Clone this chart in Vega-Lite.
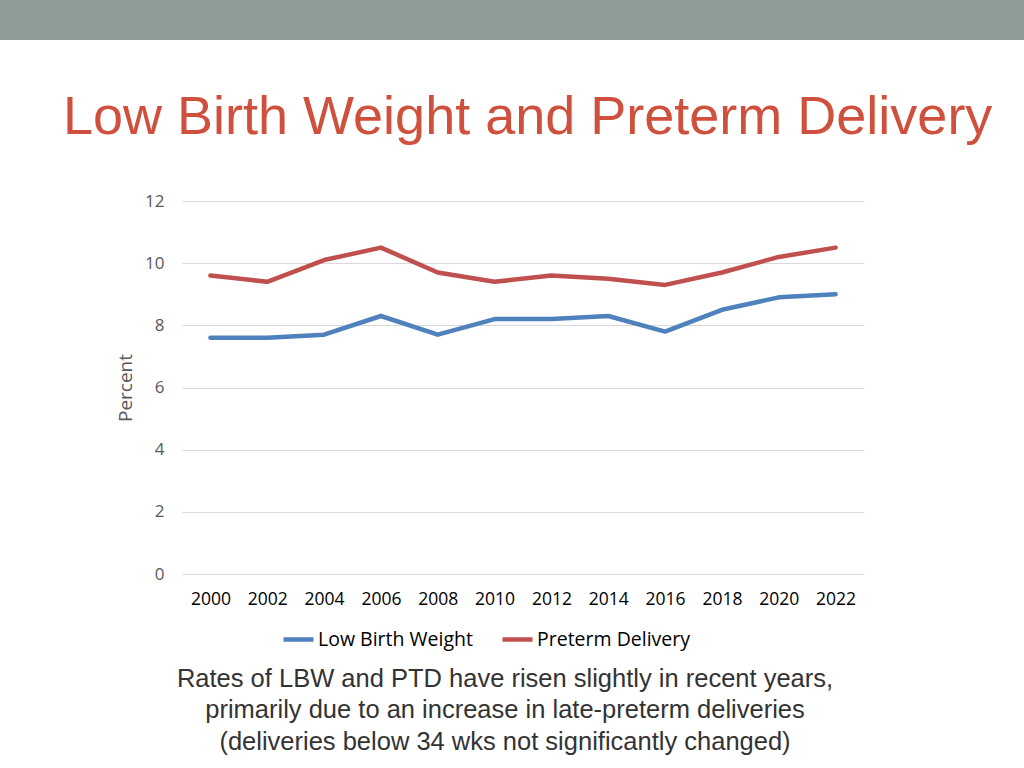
{
  "$schema": "https://vega.github.io/schema/vega-lite/v6.json",
  "padding": 0,
  "background": "white",
  "spacing": 51,
  "config": {"view": {"stroke": null}},
  "vconcat": [
    {
      "width": 1024,
      "height": 40,
      "view": {"fill": "#8F9D96", "stroke": null},
      "data": {"values": [{}]},
      "mark": {"type": "text", "text": ""}
    },
    {
      "title": {
        "text": "Low Birth Weight and Preterm Delivery",
        "anchor": "start",
        "dx": 63,
        "offset": 47,
        "font": "Liberation Sans",
        "fontSize": 54,
        "fontWeight": "normal",
        "color": "#CF503C"
      },
      "spacing": 0,
      "hconcat": [
        {
          "width": 116,
          "height": 1,
          "data": {"values": [{}]},
          "mark": {"type": "text", "text": ""}
        },
        {
          "width": 682,
          "height": 373,
          "data": {
            "values": [
              {"year": "2000", "series": "Low Birth Weight", "value": 7.6},
              {"year": "2002", "series": "Low Birth Weight", "value": 7.6},
              {"year": "2004", "series": "Low Birth Weight", "value": 7.7},
              {"year": "2006", "series": "Low Birth Weight", "value": 8.3},
              {"year": "2008", "series": "Low Birth Weight", "value": 7.7},
              {"year": "2010", "series": "Low Birth Weight", "value": 8.2},
              {"year": "2012", "series": "Low Birth Weight", "value": 8.2},
              {"year": "2014", "series": "Low Birth Weight", "value": 8.3},
              {"year": "2016", "series": "Low Birth Weight", "value": 7.8},
              {"year": "2018", "series": "Low Birth Weight", "value": 8.5},
              {"year": "2020", "series": "Low Birth Weight", "value": 8.9},
              {"year": "2022", "series": "Low Birth Weight", "value": 9.0},
              {"year": "2000", "series": "Preterm Delivery", "value": 9.6},
              {"year": "2002", "series": "Preterm Delivery", "value": 9.4},
              {"year": "2004", "series": "Preterm Delivery", "value": 10.1},
              {"year": "2006", "series": "Preterm Delivery", "value": 10.5},
              {"year": "2008", "series": "Preterm Delivery", "value": 9.7},
              {"year": "2010", "series": "Preterm Delivery", "value": 9.4},
              {"year": "2012", "series": "Preterm Delivery", "value": 9.6},
              {"year": "2014", "series": "Preterm Delivery", "value": 9.5},
              {"year": "2016", "series": "Preterm Delivery", "value": 9.3},
              {"year": "2018", "series": "Preterm Delivery", "value": 9.7},
              {"year": "2020", "series": "Preterm Delivery", "value": 10.2},
              {"year": "2022", "series": "Preterm Delivery", "value": 10.5}
            ]
          },
          "title": {
            "text": [
              "Rates of LBW and PTD have risen slightly in recent years,",
              "primarily due to an increase in late-preterm deliveries",
              "(deliveries below 34 wks not significantly changed)"
            ],
            "orient": "bottom",
            "anchor": "middle",
            "frame": "group",
            "dx": -18,
            "offset": 59,
            "font": "Liberation Sans",
            "fontSize": 25.5,
            "lineHeight": 31.5,
            "fontWeight": "normal",
            "color": "#333333"
          },
          "mark": {"type": "line", "strokeWidth": 4.5, "strokeCap": "round", "strokeJoin": "round"},
          "encoding": {
            "x": {
              "field": "year",
              "type": "ordinal",
              "scale": {"type": "point", "padding": 0.5},
              "axis": {
                "title": null,
                "labelAngle": 0,
                "labelFont": "Open Sans",
                "labelFontSize": 17.5,
                "labelColor": "#000000",
                "labelPadding": 16,
                "domain": false,
                "ticks": false,
                "grid": false
              }
            },
            "y": {
              "field": "value",
              "type": "quantitative",
              "scale": {"domain": [0, 12], "nice": false},
              "axis": {
                "title": "Percent",
                "values": [0, 2, 4, 6, 8, 10, 12],
                "titleFont": "Open Sans",
                "titleFontSize": 19,
                "titleFontWeight": "normal",
                "titleColor": "#595959",
                "titlePadding": 9,
                "labelFont": "Open Sans",
                "labelFontSize": 17,
                "labelColor": "#595959",
                "labelPadding": 18,
                "domain": false,
                "ticks": false,
                "gridColor": "#D9D9D9",
                "gridWidth": 1
              }
            },
            "color": {
              "field": "series",
              "type": "nominal",
              "scale": {"domain": ["Low Birth Weight", "Preterm Delivery"], "range": ["#4F81BD", "#C0504D"]},
              "legend": {
                "title": null,
                "orient": "none",
                "direction": "horizontal",
                "legendX": 281,
                "legendY": 622,
                "symbolType": "stroke",
                "symbolSize": 900,
                "symbolStrokeWidth": 4.5,
                "labelFont": "Open Sans",
                "labelFontSize": 19.5,
                "labelColor": "#000000",
                "labelOffset": 2,
                "columnPadding": 20
              }
            }
          }
        }
      ]
    }
  ]
}
